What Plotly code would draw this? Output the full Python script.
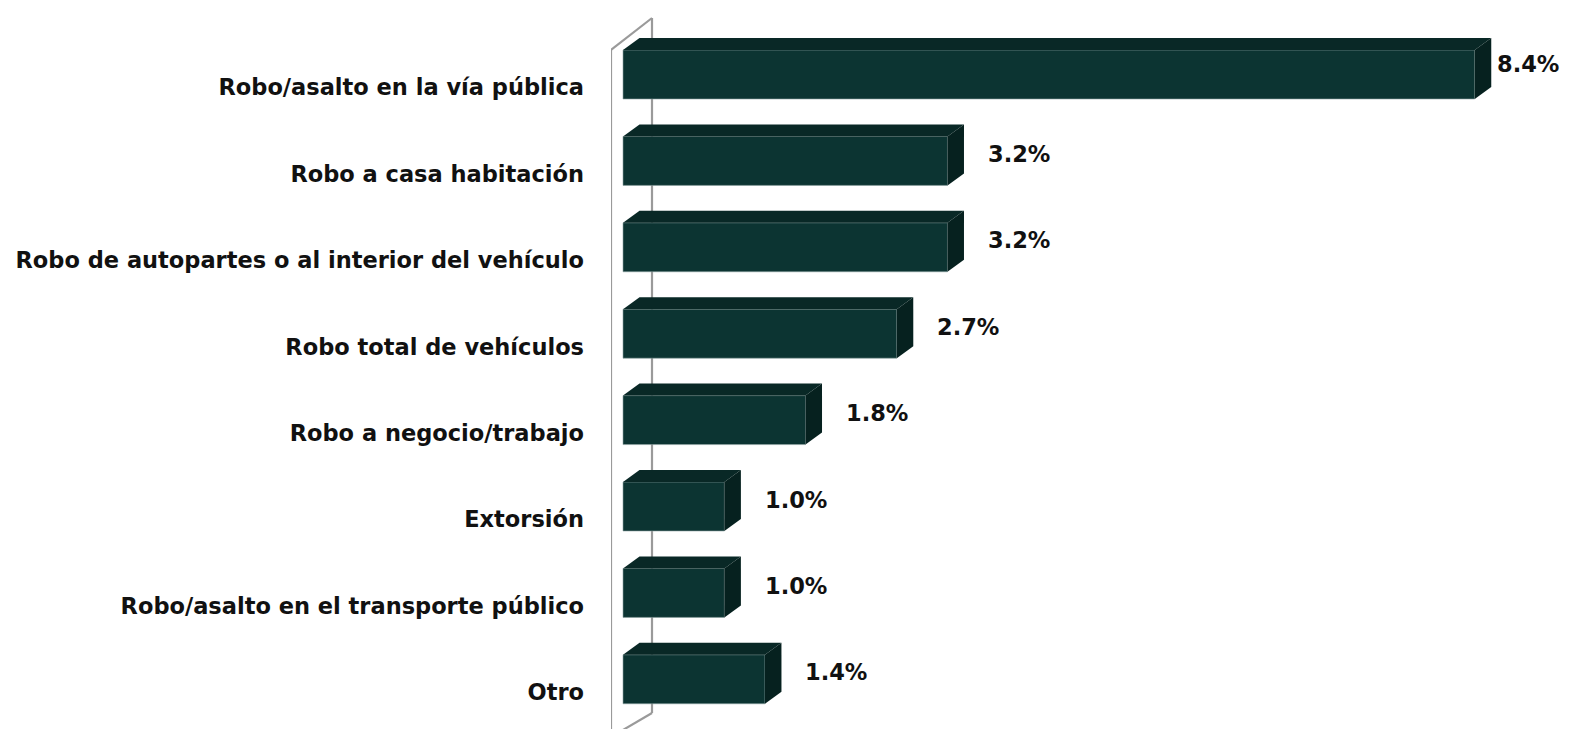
import plotly.graph_objects as go

categories = [
    "Robo/asalto en la vía pública",
    "Robo a casa habitación",
    "Robo de autopartes o al interior del vehículo",
    "Robo total de vehículos",
    "Robo a negocio/trabajo",
    "Extorsión",
    "Robo/asalto en el transporte público",
    "Otro",
]
values = [8.4, 3.2, 3.2, 2.7, 1.8, 1.0, 1.0, 1.4]
value_labels = ["8.4%", "3.2%", "3.2%", "2.7%", "1.8%", "1.0%", "1.0%", "1.4%"]

# the page body adds an 8px margin, so the figure is a bit smaller
W, H = 1562, 721
OFF = 8
FRONT = "#0c3432"
TOP = "#092826"
SIDE = "#06211f"
WALL = "#9a9a9a"
FONT = "DejaVu Sans"

# axis geometry (pixel scale -> data units)
px_x = 101.4          # pixels per 1%
px_y = 86.4           # pixels per category
left = 611 - OFF
x0 = -12 / px_x
x1 = x0 + (W - left) / px_x
y_top = -(74.5 - OFF) / px_y
y_bot = y_top + H / px_y

bw = 49 / px_y        # front face height
dx = 16.5 / px_x      # depth offset
dy = 12 / px_y

ys = list(range(len(categories)))

fig = go.Figure()

# front faces
fig.add_trace(go.Bar(
    x=values, y=ys, orientation="h", width=bw, base=0,
    marker_color=FRONT, marker_line_width=0.6, marker_line_color="#8fa3a2",
    hoverinfo="skip", showlegend=False,
))

# top and side faces
for y, v in zip(ys, values):
    t = y - bw / 2
    b = y + bw / 2
    fig.add_trace(go.Scatter(
        x=[0, v, v + dx, dx, 0], y=[t, t, t - dy, t - dy, t],
        fill="toself", fillcolor=TOP, mode="lines", line_width=0,
        hoverinfo="skip", showlegend=False,
    ))
    fig.add_trace(go.Scatter(
        x=[v, v + dx, v + dx, v, v], y=[t, t - dy, b - dy, b, t],
        fill="toself", fillcolor=SIDE, mode="lines", line_width=0,
        hoverinfo="skip", showlegend=False,
    ))

# value labels
vmax = max(values)
for y, v, lab in zip(ys, values, value_labels):
    is_max = v == vmax
    fig.add_annotation(
        x=v + dx, y=y - 7 / px_y, text=lab, showarrow=False,
        xanchor="left", yanchor="middle",
        xshift=4 if is_max else 22, yshift=4 if is_max else 0,
        font=dict(family=FONT, size=22.5, color="#111111", weight="bold"),
    )

# wall lines of the 3D frame
bx = 29 / px_x
wall_top = y_top + 42 / px_y
wall_top_back = y_top + 10 / px_y
wall_bot_back = y_top + 705 / px_y
wall_bot = y_top + 729 / px_y
line = dict(color=WALL, width=2.2)
fig.add_shape(type="line", x0=bx, x1=bx, y0=wall_top_back, y1=wall_bot_back,
              line=line, layer="below")
fig.add_shape(type="line", x0=x0, x1=x0, y0=wall_top, y1=wall_bot,
              line=line, layer="below")
fig.add_shape(type="line", x0=x0, x1=bx, y0=wall_top, y1=wall_top_back,
              line=line, layer="below")
fig.add_shape(type="line", x0=x0, x1=bx, y0=wall_bot, y1=wall_bot_back,
              line=line, layer="below")

fig.update_layout(
    width=W, height=H,
    margin=dict(l=left, r=0, t=0, b=0),
    paper_bgcolor="white", plot_bgcolor="white",
    barmode="overlay",
    xaxis=dict(range=[x0, x1], visible=False),
    yaxis=dict(
        range=[y_bot, y_top], tickvals=[y + 13 / px_y for y in ys],
        ticktext=categories, showgrid=False, zeroline=False, showline=False,
        ticks="", ticklabelstandoff=26,
        tickfont=dict(family=FONT, size=22.5, color="#111111", weight="bold"),
    ),
)

fig.write_html("out.html")
